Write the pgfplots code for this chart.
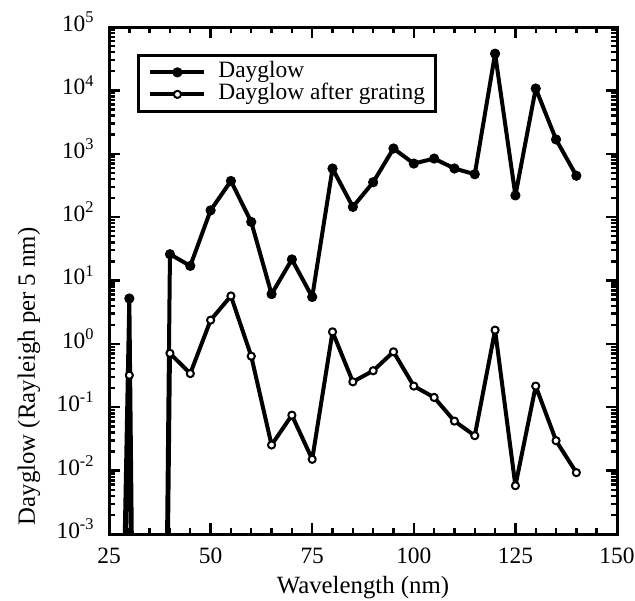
\documentclass[border=0pt]{standalone}
\usepackage{pgfplots}
\pgfplotsset{compat=1.18}
\usepackage{fontspec}
\setmainfont{Liberation Serif}
\begin{document}
\begin{tikzpicture}
\useasboundingbox (-54.5pt,-33pt) rectangle (263pt,267pt);
\begin{axis}[
  at={(0pt,0pt)}, anchor=south west,
  scale only axis,
  width=254pt, height=253.5pt,
  ymode=log,
  xmin=25, xmax=150,
  ymin=1e-3, ymax=1e5,
  xtick={25,50,75,100,125,150},
  xticklabels={25,50,75,100,125,150},
  minor x tick num=4,
  ytick={1e-3,1e-2,1e-1,1,1e1,1e2,1e3,1e4,1e5},
  yticklabels={10\textsuperscript{-3},10\textsuperscript{-2},10\textsuperscript{-1},10\textsuperscript{0},10\textsuperscript{1},10\textsuperscript{2},10\textsuperscript{3},10\textsuperscript{4},10\textsuperscript{5}},
  minor ytick={},
  tick align=inside,
  major tick length=5.5pt,
  minor tick length=2.8pt,
  every tick/.style={black, line width=1.2pt},
  axis line style={line width=1.5pt},
  ticklabel style={font=\fontsize{11.7}{13}\selectfont},
  xticklabel style={anchor=base, yshift=-14.5pt, inner sep=0pt},
  yticklabel style={anchor=base east, inner sep=0pt, xshift=-7pt, yshift=-2.2pt},
  xlabel={Wavelength (nm)},
  ylabel={Dayglow (Rayleigh per 5 nm)},
  every axis x label/.style={at={(axis description cs:0.5,-0.1164)}, anchor=base, font=\fontsize{12.4}{14}\selectfont},
  every axis y label/.style={at={(axis description cs:-0.1457,0.311)}, rotate=90, anchor=base, font=\fontsize{12.4}{14}\selectfont},
  legend cell align=left,
  legend style={at={(axis description cs:0.055,0.947)}, anchor=north west, draw=black, line width=1.5pt,
    font=\fontsize{11.7}{12}\selectfont, inner xsep=5pt, inner ysep=3pt,
    nodes={inner sep=0pt, text height=8pt, text depth=3pt}, row sep=0pt, column sep=6pt},
  legend image code/.code={\draw[mark repeat=2,mark phase=2,#1] plot coordinates {(0pt,0pt) (13.5pt,0pt) (27pt,0pt)};},
]
\addplot[black, line width=2pt, line join=round, mark=*, mark size=2.3pt, mark options={line width=0.5pt, fill=black}] coordinates {
(25,1e-16) (30,5.2) (35,1e-30) (40,26) (45,17) (50,128) (55,372) (60,84) (65,6.1) (70,21.5) (75,5.5)
(80,585) (85,145) (90,355) (95,1210) (100,700) (105,840) (110,585) (115,475) (120,38000)
(125,220) (130,10700) (135,1680) (140,450)
};
\addlegendentry{Dayglow}
\addplot[black, line width=2pt, line join=round, mark=*, mark size=1.8pt, mark options={line width=1pt, fill=white}] coordinates {
(25,1e-16) (30,0.32) (35,1e-30) (40,0.71) (45,0.34) (50,2.37) (55,5.7) (60,0.64) (65,0.0254) (70,0.075) (75,0.0151)
(80,1.55) (85,0.252) (90,0.377) (95,0.75) (100,0.216) (105,0.143) (110,0.0605) (115,0.0356) (120,1.65)
(125,0.00578) (130,0.216) (135,0.0297) (140,0.0093)
};
\addlegendentry{Dayglow after grating}
\end{axis}
\end{tikzpicture}
\end{document}
